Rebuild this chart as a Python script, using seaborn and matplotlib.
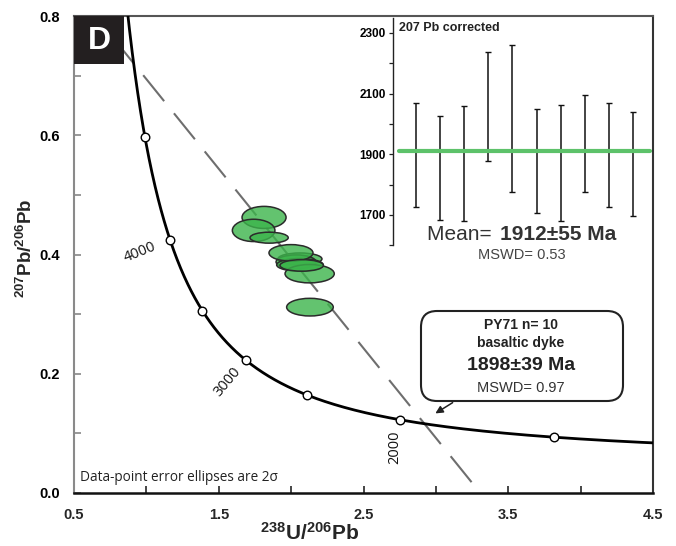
import numpy as np
import pandas as pd
import matplotlib
matplotlib.use("Agg")
import matplotlib.pyplot as plt
import seaborn as sns
from matplotlib.patches import Ellipse, Rectangle, FancyBboxPatch

# Decay constants (1/yr) and present-day 238U/235U
LAMBDA_238 = 1.55125e-10
LAMBDA_235 = 9.8485e-10
U_RATIO = 137.88

# Spot analyses: 238U/206Pb, 207Pb/206Pb and 2-sigma half-axes
u_pb = [1.813, 1.741, 1.848, 2.061, 2.034, 2.061, 1.999, 2.128, 2.073, 2.130]
pb_pb = [0.4622, 0.4404, 0.4282, 0.3926, 0.3876, 0.3826, 0.4027, 0.3678, 0.3817, 0.3117]
err_u = [0.152, 0.147, 0.132, 0.152, 0.138, 0.161, 0.152, 0.170, 0.150, 0.161]
err_pb = [0.0185, 0.0187, 0.0092, 0.0100, 0.0117, 0.0106, 0.0139, 0.0154, 0.0097, 0.0148]

# Concordia age marks (Ma) and the ones that carry a label
age_marks = [1500, 2000, 2500, 3000, 3500, 4000, 4500]
age_labels = [4000, 3000, 2000]
label_pos_x = [0.956, 1.557, 2.718]
label_pos_y = [0.403, 0.186, 0.077]
label_angle = [22, 50, 90]

# Discordia: lower intercept age (Ma) and common-Pb 207Pb/206Pb
lower_intercept_ma = 1898
common_pb = 0.995

# 207Pb-corrected spot ages (Ma) with 2-sigma errors
spot_age = [1898, 1854, 1870, 2056.5, 2018, 1879, 1871.5, 1937, 1898, 1868.5]
spot_err = [171, 171, 190, 180, 241, 171, 190.5, 160, 171, 170.5]
mean_age = 1912


def tera_wasserburg(age_ma):
    t = np.asarray(age_ma, dtype=float) * 1e6
    e238 = np.exp(LAMBDA_238 * t) - 1.0
    e235 = np.exp(LAMBDA_235 * t) - 1.0
    return 1.0 / e238, e235 / e238 / U_RATIO


sns.set_theme(style="ticks")
plt.rcParams["font.family"] = ["Liberation Sans", "DejaVu Sans"]
plt.rcParams["mathtext.fontset"] = "custom"
plt.rcParams["mathtext.rm"] = "Liberation Sans"
plt.rcParams["mathtext.bf"] = "Liberation Sans:bold"

W, H = 676, 546
fig = plt.figure(figsize=(W / 100, H / 100), dpi=100)
ax = fig.add_axes([74 / W, 1 - 493 / H, (653 - 74) / W, (493 - 16) / H])

# Concordia curve
curve_ages = np.linspace(1200, 5000, 600)
cx, cy = tera_wasserburg(curve_ages)
curve = pd.DataFrame({"x": cx, "y": cy})
sns.lineplot(data=curve, x="x", y="y", sort=False, color="black", lw=2.0, ax=ax, zorder=3)

mx, my = tera_wasserburg(age_marks)
marks = pd.DataFrame({"x": mx, "y": my})
sns.scatterplot(data=marks, x="x", y="y", s=38, color="white", edgecolor="black",
                linewidth=1.0, ax=ax, zorder=4)

for age, lx, ly, rot in zip(age_labels, label_pos_x, label_pos_y, label_angle):
    ax.text(lx, ly, str(age), rotation=rot, ha="center", va="center",
            fontsize=10.5, family=["Open Sans", "DejaVu Sans"], color="#111", zorder=5)

# Discordia through the lower intercept
lx0, ly0 = tera_wasserburg(lower_intercept_ma)
slope = (float(ly0) - common_pb) / float(lx0)
x_end = -common_pb / slope
dx = np.array([0.5, x_end])
disc = pd.DataFrame({"x": dx, "y": common_pb + slope * dx})
sns.lineplot(data=disc, x="x", y="y", color="#6e6e6e", lw=1.5, ax=ax, zorder=2)
ax.lines[-1].set_dashes((16, 7.5))

# Error ellipses
for x, y, ex, ey in zip(u_pb, pb_pb, err_u, err_pb):
    ax.add_patch(Ellipse((x, y), 2 * ex, 2 * ey, facecolor="#3cb44b", alpha=0.8,
                         edgecolor="none", zorder=6))
    ax.add_patch(Ellipse((x, y), 2 * ex, 2 * ey, facecolor="none",
                         edgecolor="#2b2b2b", lw=1.1, zorder=6))

ax.set_xlim(0.5, 4.5)
ax.set_ylim(0.0, 0.8)
xt = np.arange(0.5, 4.51, 0.5)
ax.set_xticks(xt)
ax.set_xticklabels([f"{v:.1f}" if abs((v - 0.5) % 1) < 1e-9 else "" for v in xt])
yt = np.arange(0.0, 0.801, 0.1)
ax.set_yticks(yt)
ax.set_yticklabels([f"{v:.1f}" if round(v * 10) % 2 == 0 else "" for v in yt])
ax.tick_params(axis="both", direction="in", length=5, width=1.2, labelsize=10.5)
ax.tick_params(axis="x", pad=11)
ax.tick_params(axis="y", pad=10, colors="#888888", labelcolor="black")
for lab in ax.get_xticklabels() + ax.get_yticklabels():
    lab.set_fontweight("bold")
for side, col, lw in [("left", "#8a8a8a", 1.5), ("bottom", "#111111", 1.8),
                      ("top", "#555555", 1.5), ("right", "#333333", 1.5)]:
    ax.spines[side].set_visible(True)
    ax.spines[side].set_color(col)
    ax.spines[side].set_linewidth(lw)

ax.set_xlabel(r"$\mathbf{^{238}U/^{206}Pb}$", fontsize=15)
ax.set_ylabel(r"$\mathbf{^{207}Pb/^{206}Pb}$", fontsize=13.5)
ax.xaxis.set_label_coords((310 - 74) / 579, -0.06)
ax.yaxis.set_label_coords(-0.065, 0.514)

ax.text(0.01, 0.016, "Data-point error ellipses are 2σ", transform=ax.transAxes,
        fontsize=9.8, family=["Open Sans", "DejaVu Sans"], color="#222", ha="left",
        va="bottom", zorder=7)

# Panel letter
ax.add_patch(Rectangle((0, 1 - 48 / 477), 50 / 579, 48 / 477, transform=ax.transAxes,
                       facecolor="#231f20", edgecolor="none", zorder=8, clip_on=False))
ax.text(25 / 579, 1 - 25 / 477, "D", transform=ax.transAxes, color="white",
        fontsize=23, fontweight="bold", ha="center", va="center", zorder=9)

# Result box with arrow to the lower intercept
box = FancyBboxPatch((4.21, 1.45), 2.02, 0.90, boxstyle="round,pad=0,rounding_size=0.16",
                     transform=fig.dpi_scale_trans, facecolor="white", edgecolor="#222",
                     lw=1.5, zorder=10)
fig.add_artist(box)
ax.annotate("", xy=(2.980, 0.131), xytext=(3.132, 0.154),
            arrowprops=dict(arrowstyle="-|>", color="#222", lw=1.1, mutation_scale=11),
            zorder=10)


def ftext(px, py, s, ha="center", **kw):
    fig.text(px / W, 1 - py / H, s, ha=ha, va="center", zorder=11, **kw)


ftext(521, 325, "PY71 n= 10", fontsize=10, fontweight="bold", color="#222")
ftext(521, 343.5, "basaltic dyke", fontsize=10, fontweight="bold", color="#222")
ftext(521, 366, f"{lower_intercept_ma}±39 Ma", fontsize=14, fontweight="bold", color="#222")
ftext(521, 388, "MSWD= 0.97", fontsize=10.5, color="#333")

# Inset: weighted mean of 207Pb-corrected ages
ins = fig.add_axes([393 / W, 1 - 245.3 / H, (652 - 393) / W, (245.3 - 17.8) / H])
ins.patch.set_alpha(0)
pos = np.arange(1, len(spot_age) + 1)
ins.errorbar(pos, spot_age, yerr=spot_err, fmt="none", ecolor="#111", elinewidth=1.1,
             capsize=2, capthick=1.0)
mean_df = pd.DataFrame({"x": [0.3, 10.71], "y": [mean_age, mean_age]})
sns.lineplot(data=mean_df, x="x", y="y", color="#5dc26a", lw=3.0, ax=ins, zorder=3)
ins.set_xlim(0.046, 10.79)
ins.set_ylim(1600, 2350)
ins.set_yticks([1700, 1900, 2100, 2300])
ins.set_yticks(np.arange(1600, 2351, 100), minor=True)
ins.set_xticks([])
ins.set_xlabel("")
ins.set_ylabel("")
for side in ["top", "right", "bottom"]:
    ins.spines[side].set_visible(False)
ins.spines["left"].set_color("#222")
ins.spines["left"].set_linewidth(1.0)
ins.tick_params(axis="y", which="both", direction="out", length=3, width=0.9,
                labelsize=8.5, pad=2, colors="#222", labelcolor="black")
for lab in ins.get_yticklabels():
    lab.set_fontweight("bold")
ins.text(0.024, 0.955, "207 Pb corrected", transform=ins.transAxes, fontsize=9,
         fontweight="bold", color="#222", ha="left", va="center")

ftext(427, 234.5, "Mean= ", ha="left", fontsize=15, color="#333")
ftext(616, 234.5, f"{mean_age}±55 Ma", ha="right", fontsize=15, fontweight="bold",
      color="#333")
ftext(521.5, 255, "MSWD= 0.53", fontsize=10.5, color="#444")

fig.savefig("out.png", dpi=100)
